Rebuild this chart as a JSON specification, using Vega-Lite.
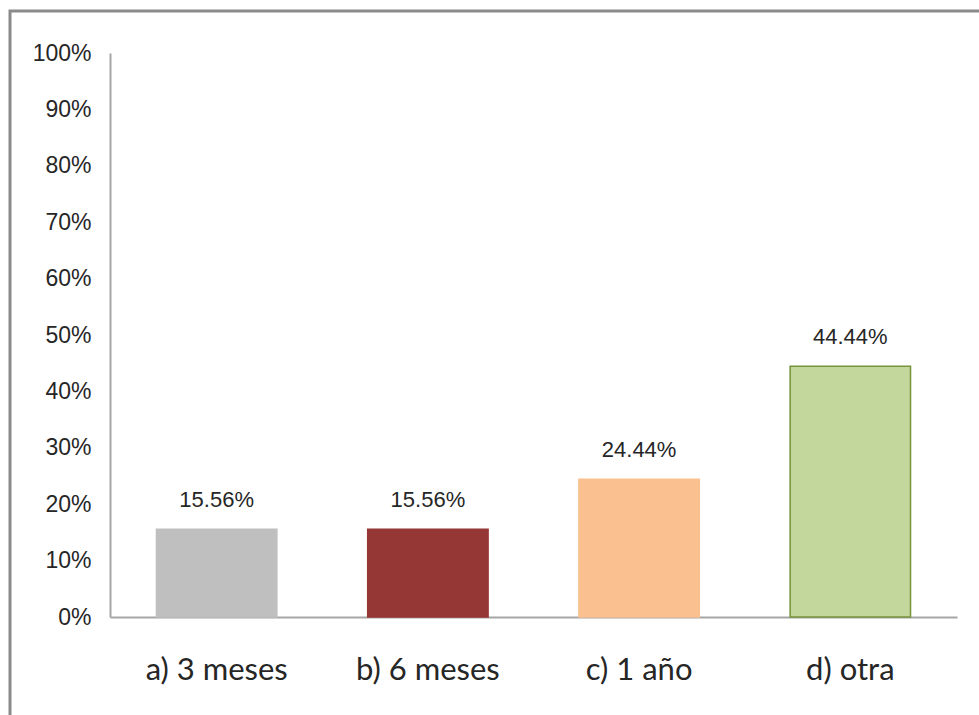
{
  "$schema": "https://vega.github.io/schema/vega-lite/v6.json",
  "autosize": "none",
  "padding": {"left": 10, "top": 11, "right": 0, "bottom": 0},
  "width": 1000,
  "height": 760,
  "background": "white",
  "config": {
    "view": {"stroke": "#8a8a8a", "strokeWidth": 3},
    "font": "Liberation Sans"
  },
  "data": {
    "values": [
      {"opcion": "a) 3 meses", "porcentaje": 0.1556},
      {"opcion": "b) 6 meses", "porcentaje": 0.1556},
      {"opcion": "c) 1 año", "porcentaje": 0.2444},
      {"opcion": "d) otra", "porcentaje": 0.4444}
    ]
  },
  "encoding": {
    "x": {
      "field": "opcion",
      "type": "nominal",
      "sort": null,
      "title": null,
      "scale": {"range": [100, 947], "paddingInner": 0.43, "paddingOuter": 0.22},
      "axis": {
        "orient": "bottom",
        "offset": -154,
        "labelAngle": 0,
        "labelFont": "Lato",
        "labelFontSize": 31,
        "labelColor": "#262626",
        "labelPadding": 38,
        "ticks": false,
        "domainColor": "#a6a6a6",
        "domainWidth": 2
      }
    },
    "y": {
      "field": "porcentaje",
      "type": "quantitative",
      "title": null,
      "scale": {"domain": [0, 1], "range": [606, 42], "nice": false},
      "axis": {
        "orient": "left",
        "offset": -100,
        "format": ".0%",
        "values": [0, 0.1, 0.2, 0.3, 0.4, 0.5, 0.6, 0.7, 0.8, 0.9, 1],
        "labelFont": "Liberation Sans",
        "labelFontSize": 23,
        "labelColor": "#262626",
        "labelPadding": 19,
        "ticks": false,
        "grid": false,
        "domainColor": "#a6a6a6",
        "domainWidth": 2
      }
    }
  },
  "layer": [
    {
      "mark": {"type": "bar", "strokeWidth": 1.5},
      "encoding": {
        "color": {
          "field": "opcion",
          "type": "nominal",
          "legend": null,
          "scale": {
            "domain": ["a) 3 meses", "b) 6 meses", "c) 1 año", "d) otra"],
            "range": ["#bfbfbf", "#953735", "#fac090", "#c3d69b"]
          }
        },
        "stroke": {
          "field": "opcion",
          "type": "nominal",
          "legend": null,
          "scale": {
            "domain": ["a) 3 meses", "b) 6 meses", "c) 1 año", "d) otra"],
            "range": ["#bfbfbf", "#953735", "#fac090", "#77933c"]
          }
        }
      }
    },
    {
      "mark": {
        "type": "text",
        "baseline": "alphabetic",
        "dy": -22,
        "fontSize": 22,
        "font": "Liberation Sans",
        "color": "#262626"
      },
      "encoding": {
        "text": {"field": "porcentaje", "type": "quantitative", "format": ".2%"}
      }
    }
  ]
}
